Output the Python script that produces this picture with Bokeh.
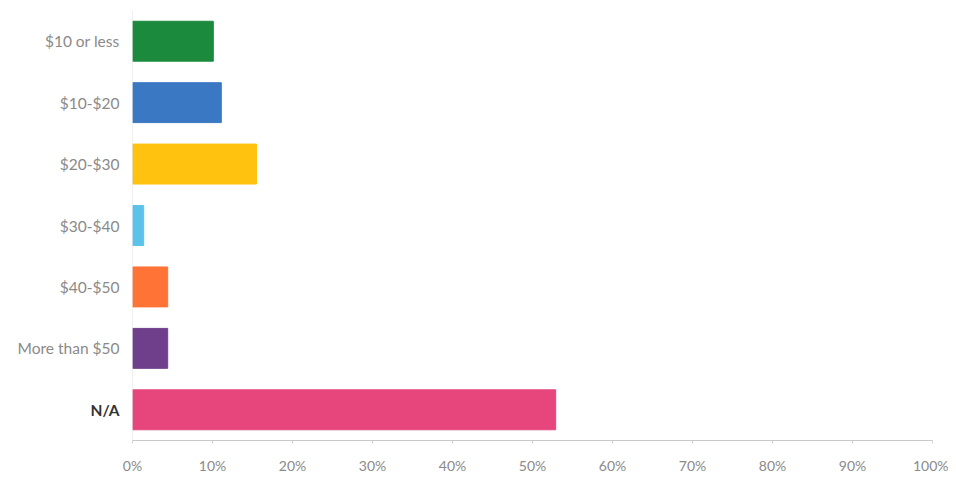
from bokeh.plotting import figure
from bokeh.models import Range1d, FactorRange, NumeralTickFormatter, ColumnDataSource, Span
from bokeh.core.properties import value
from bokeh.embed import file_html
from bokeh.resources import INLINE

categories = ["$10 or less", "$10-$20", "$20-$30", "$30-$40", "$40-$50", "More than $50", "N/A"]
shares = [0.101, 0.111, 0.155, 0.014, 0.044, 0.044, 0.529]
colors = ["#1b8a3c", "#3b78c3", "#ffc20e", "#5bc3ea", "#ff7336", "#6f3f8c", "#e6467c"]

src = ColumnDataSource(dict(cat=categories, v=shares, c=colors))
normal_src = ColumnDataSource(dict(cat=categories[:-1], zero=[0] * (len(categories) - 1)))
bold_src = ColumnDataSource(dict(cat=categories[-1:], zero=[0]))

p = figure(width=948, height=476, output_backend="svg", toolbar_location=None,
           y_range=FactorRange(factors=list(reversed(categories))),
           x_range=Range1d(0, 1),
           min_border_left=132, min_border_right=16, min_border_top=10, min_border_bottom=30)

p.hbar(y="cat", right="v", left=0, height=0.65, color="c", source=src)

p.text(x="zero", y="cat", text="cat", source=normal_src, x_offset=-13,
       text_align="right", text_baseline="middle", text_color="#8a8a8a",
       text_font=value("Lato"), text_font_size="15.5px", level="overlay")
p.text(x="zero", y="cat", text="cat", source=bold_src, x_offset=-13,
       text_align="right", text_baseline="middle", text_color="#333333",
       text_font=value("Lato"), text_font_size="15.5px", text_font_style="bold",
       level="overlay")

p.yaxis.visible = False
p.add_layout(Span(location=0, dimension="height", line_color="#e0e0e0", line_width=1))

p.xaxis.ticker = [0, 0.1, 0.2, 0.3, 0.4, 0.5, 0.6, 0.7, 0.8, 0.9, 1.0]
p.xaxis.formatter = NumeralTickFormatter(format="0%")
p.xaxis.axis_line_color = "#c8c8c8"
p.xaxis.major_tick_line_color = "#d0d0d0"
p.xaxis.major_tick_in = 0
p.xaxis.major_tick_out = 3
p.xaxis.minor_tick_line_color = None
p.xaxis.major_label_text_font = "Lato"
p.xaxis.major_label_text_font_size = "14px"
p.xaxis.major_label_text_color = "#8a8a8a"
p.xaxis.major_label_standoff = 13

p.xgrid.grid_line_color = None
p.ygrid.grid_line_color = None
p.outline_line_color = None

open("out.html", "w").write(file_html(p, INLINE))
